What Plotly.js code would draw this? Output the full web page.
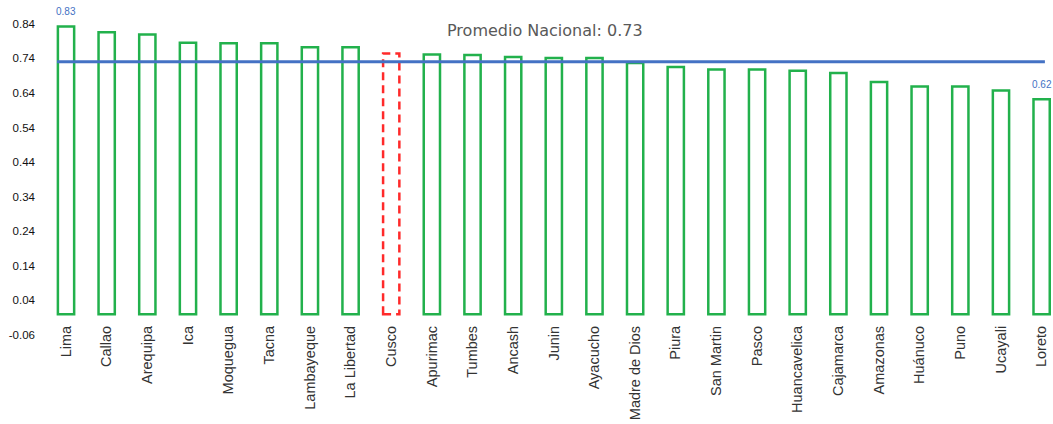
<!DOCTYPE html>
<html>
<head>
<meta charset="utf-8">
<script src="https://cdn.plot.ly/plotly-3.0.1.min.js"></script>
<style>html,body{margin:0;padding:0;background:#fff;}#chart{width:1053px;height:424px;}</style>
</head>
<body>
<div id="chart"></div>
<script>
const categories = ['Lima','Callao','Arequipa','Ica','Moquegua','Tacna','Lambayeque','La Libertad','Cusco','Apurimac','Tumbes','Ancash','Junin','Ayacucho','Madre de Dios','Piura','San Martin','Pasco','Huancavelica','Cajamarca','Amazonas','Huánuco','Puno','Ucayali','Loreto'];
const values = [0.832,0.816,0.809,0.785,0.784,0.784,0.772,0.772,0.754,0.751,0.750,0.744,0.741,0.741,0.727,0.715,0.708,0.708,0.704,0.698,0.672,0.659,0.659,0.647,0.622];
const highlighted = 'Cusco';
const nationalAverage = 0.73;
const averageLabel = 'Promedio Nacional: ';
const yTicks = [-0.06,0.04,0.14,0.24,0.34,0.44,0.54,0.64,0.74,0.84];

const green = '#22b14c';
const hiIdx = categories.indexOf(highlighted);
const lineColors = categories.map(c => c === highlighted ? 'rgba(0,0,0,0)' : green);
const barWidth = 0.4;

const trace = {
  type: 'bar',
  x: categories,
  y: values,
  width: barWidth,
  marker: {color: 'rgba(255,255,255,0)', line: {color: lineColors, width: 2.5}},
  hoverinfo: 'x+y'
};

const maxIdx = values.indexOf(Math.max(...values));
const minIdx = values.indexOf(Math.min(...values));
const annotations = [maxIdx, minIdx].map(i => ({
  x: categories[i], y: values[i], xref: 'x', yref: 'y',
  text: values[i].toFixed(2), showarrow: false, yanchor: 'middle', yshift: 15,
  font: {family: 'Liberation Sans, Arial, sans-serif', size: 10, color: '#4472c4'}
}));
annotations.push({
  x: 0.4985, xref: 'paper', y: 0.82, yref: 'y',
  text: averageLabel + nationalAverage.toFixed(2), showarrow: false,
  font: {family: 'DejaVu Sans, sans-serif', size: 16, color: '#595959'}
});

const layout = {
  width: 1053, height: 424,
  margin: {l: 40, r: 0, t: 10, b: 89},
  paper_bgcolor: '#fff', plot_bgcolor: '#fff',
  showlegend: false,
  bargap: 0.6,
  xaxis: {
    type: 'category', range: [-0.64, 24.28], tickangle: -90,
    showgrid: false, zeroline: false, showline: false, ticks: '',
    ticklabelstandoff: -13,
    tickfont: {family: 'Liberation Sans, Arial, sans-serif', size: 14.5, color: '#333'}
  },
  yaxis: {
    range: [-0.06, 0.88], tickvals: yTicks, ticktext: yTicks.map(v => v.toFixed(2)),
    showgrid: false, zeroline: false, showline: false, ticks: '',
    ticklabelstandoff: 4,
    tickfont: {family: 'Liberation Sans, Arial, sans-serif', size: 11.5, color: '#111'}
  },
  shapes: [
    {type: 'rect', xref: 'x', yref: 'y', x0: hiIdx - barWidth/2, x1: hiIdx + barWidth/2, y0: 0, y1: values[hiIdx],
     line: {color: '#ff2a2a', width: 2.5, dash: '8px,5px'}, fillcolor: 'rgba(0,0,0,0)'},
    {type: 'line', xref: 'paper', yref: 'y', x0: 0.0168, x1: 0.992, y0: nationalAverage, y1: nationalAverage,
     line: {color: '#4472c4', width: 3}}
  ],
  annotations: annotations
};

Plotly.newPlot('chart', [trace], layout, {displayModeBar: false, staticPlot: true});
</script>
</body>
</html>
